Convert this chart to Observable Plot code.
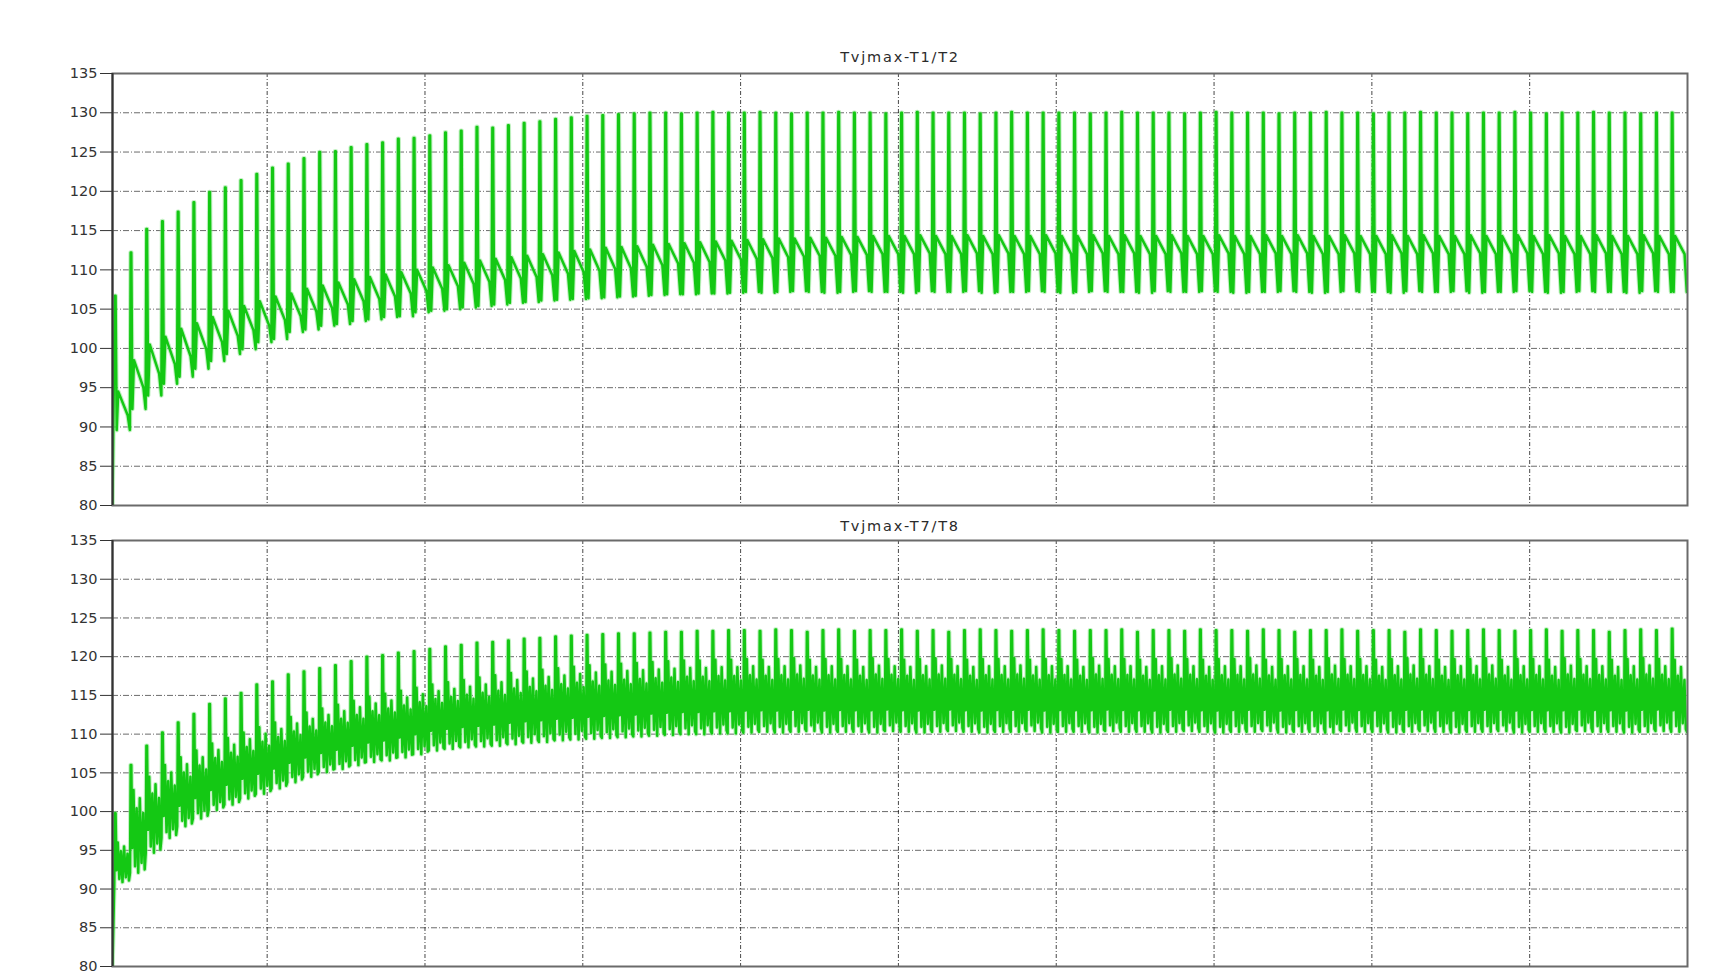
<!DOCTYPE html>
<html>
<head>
<meta charset="utf-8">
<script src="https://cdn.jsdelivr.net/npm/d3@7"></script>
<script src="https://cdn.jsdelivr.net/npm/@observablehq/plot@0.6"></script>
<style>
  html, body { margin: 0; padding: 0; background: #fff; overflow: hidden; }
  #chart { position: relative; width: 1731px; height: 974px; overflow: hidden; background: #fff; }
  #chart > div { position: absolute; left: 0; }
</style>
</head>
<body>
<div id="chart"><div id="p1"></div><div id="p2"></div></div>
<script>
// ---- axes ----
const yTicks = [80, 85, 90, 95, 100, 105, 110, 115, 120, 125, 130, 135];
const gridTimes = [0.2, 0.4, 0.6, 0.8, 1.0, 1.2, 1.4, 1.6, 1.8];
const panelTitles = ["Tvjmax-T1/T2", "Tvjmax-T7/T8"];
const startValue = 80;          // both junction temperatures start at 80 °C
const tStart = 0.004;           // first recorded sample
const tEnd = 2.0;
const period = 0.01993;         // one load cycle
const firstSpike = 0.0075;      // time of the first loss pulse

// ---- Tvjmax T1/T2: per-cycle levels (°C) ----
const t12Trough = [
  100.0, 89.6, 92.3, 94.0, 95.5, 96.4, 97.4, 98.4, 99.3, 99.9,
  100.8, 101.2, 102.1, 102.4, 102.9, 103.1, 103.5, 103.7, 104.0, 104.1,
  104.6, 104.8, 105.0, 105.2, 105.4, 105.6, 105.8, 105.9, 106.1, 106.2,
  106.3, 106.4, 106.5, 106.6, 106.7, 106.8, 106.9, 106.9, 107.0, 107.0,
  107.1, 107.2, 107.1, 107.2, 107.3, 107.2, 107.1, 107.2, 107.3, 107.2,
  107.2, 107.1, 107.3, 107.2, 107.2, 107.3, 107.1, 107.2, 107.2, 107.3,
  107.2, 107.1, 107.2, 107.3, 107.2, 107.2, 107.1, 107.3, 107.2, 107.2,
  107.3, 107.2, 107.1, 107.2, 107.2, 107.3, 107.2, 107.1, 107.2, 107.3,
  107.2, 107.2, 107.1, 107.3, 107.2, 107.2, 107.3, 107.1, 107.2, 107.2,
  107.3, 107.2, 107.1, 107.2, 107.3, 107.2, 107.2, 107.1, 107.3, 107.2
];
const t12Peak = [
  106.7, 112.2, 115.2, 116.2, 117.4, 118.6, 119.9, 120.5, 121.4, 122.2,
  123.0, 123.5, 124.2, 125.0, 125.1, 125.6, 126.0, 126.2, 126.7, 126.8,
  127.1, 127.5, 127.7, 128.2, 128.1, 128.4, 128.7, 128.9, 129.2, 129.4,
  129.6, 129.7, 129.8, 129.9, 130.0, 130.0, 129.9, 130.0, 130.1, 130.0,
  130.0, 130.1, 130.0, 129.9, 130.0, 130.0, 130.1, 130.0, 130.0, 129.9,
  130.0, 130.1, 130.0, 130.0, 130.0, 129.9, 130.0, 130.1, 130.0, 130.0,
  130.0, 130.0, 129.9, 130.0, 130.1, 130.0, 130.0, 130.0, 129.9, 130.0,
  130.1, 130.0, 130.0, 130.0, 129.9, 130.0, 130.0, 130.1, 130.0, 130.0,
  129.9, 130.0, 130.0, 130.1, 130.0, 130.0, 129.9, 130.0, 130.0, 130.1,
  130.0, 129.9, 130.0, 130.0, 130.1, 130.0, 130.0, 129.9, 130.0, 130.0
];
const t12Bump = [
  94.5, 98.5, 100.5, 101.5, 102.5, 103.2, 104.0, 104.8, 105.4, 106.0,
  106.6, 107.0, 107.6, 108.0, 108.4, 108.8, 109.1, 109.4, 109.7, 110.0,
  110.3, 110.6, 110.9, 111.2, 111.4, 111.6, 111.8, 112.0, 112.2, 112.4,
  112.6, 112.8, 112.9, 113.0, 113.2, 113.3, 113.4, 113.5, 113.6, 113.7,
  113.8, 113.9, 114.0, 114.0, 114.1, 114.1, 114.2, 114.2, 114.3, 114.3,
  114.3, 114.4, 114.3, 114.3, 114.4, 114.3, 114.4, 114.3, 114.3, 114.4,
  114.3, 114.3, 114.4, 114.3, 114.4, 114.3, 114.3, 114.4, 114.3, 114.3,
  114.4, 114.3, 114.3, 114.4, 114.3, 114.4, 114.3, 114.3, 114.4, 114.3,
  114.3, 114.4, 114.3, 114.4, 114.3, 114.3, 114.4, 114.3, 114.3, 114.4,
  114.3, 114.4, 114.3, 114.3, 114.4, 114.3, 114.3, 114.4, 114.3, 114.3
];
const t12Fade = [
  91.5, 95.0, 96.8, 98.0, 99.0, 99.9, 100.8, 101.6, 102.3, 102.9,
  103.6, 104.1, 104.7, 105.1, 105.6, 106.0, 106.3, 106.6, 107.0, 107.3,
  107.6, 107.9, 108.2, 108.5, 108.7, 108.9, 109.1, 109.3, 109.5, 109.7,
  109.9, 110.1, 110.2, 110.4, 110.6, 110.8, 110.9, 111.0, 111.2, 111.3,
  111.4, 111.5, 111.6, 111.7, 111.8, 111.8, 111.9, 111.9, 112.0, 112.0,
  112.0, 112.1, 112.0, 112.0, 112.1, 112.0, 112.1, 112.0, 112.0, 112.1,
  112.0, 112.0, 112.1, 112.0, 112.1, 112.0, 112.0, 112.1, 112.0, 112.0,
  112.1, 112.0, 112.0, 112.1, 112.0, 112.1, 112.0, 112.0, 112.1, 112.0,
  112.0, 112.1, 112.0, 112.1, 112.0, 112.0, 112.1, 112.0, 112.0, 112.1,
  112.0, 112.1, 112.0, 112.0, 112.1, 112.0, 112.0, 112.1, 112.0, 112.0
];

// ---- Tvjmax T7/T8: per-cycle levels (°C) ----
const t78Low = [
  90.9, 92.1, 94.7, 96.6, 98.1, 99.1, 100.2, 100.9, 101.7, 102.3,
  103.0, 103.8, 104.5, 105.1, 105.5, 106.0, 106.4, 106.6, 107.0, 107.4,
  107.9, 108.1, 108.3, 108.4, 108.5, 108.7, 108.9, 109.0, 109.2, 109.3,
  109.4, 109.5, 109.6, 109.7, 109.8, 109.9, 110.0, 110.0, 110.1, 110.1,
  110.2, 110.3, 110.2, 110.3, 110.4, 110.2, 110.3, 110.3, 110.2, 110.4,
  110.3, 110.2, 110.3, 110.4, 110.3, 110.2, 110.3, 110.3, 110.4, 110.2,
  110.3, 110.3, 110.2, 110.4, 110.3, 110.3, 110.2, 110.3, 110.4, 110.3,
  110.2, 110.3, 110.3, 110.4, 110.2, 110.3, 110.3, 110.2, 110.4, 110.3,
  110.3, 110.2, 110.3, 110.4, 110.3, 110.2, 110.3, 110.3, 110.4, 110.2,
  110.3, 110.3, 110.2, 110.4, 110.3, 110.3, 110.2, 110.3, 110.4, 110.3
];
const t78Top = [
  96.0, 102.8, 104.5, 106.0, 107.0, 107.9, 108.8, 109.5, 110.2, 110.9,
  111.5, 112.2, 112.8, 113.3, 113.8, 114.3, 114.8, 115.2, 115.6, 116.0,
  116.4, 116.7, 117.0, 117.3, 117.6, 117.9, 118.1, 118.3, 118.5, 118.7,
  118.9, 119.0, 119.1, 119.2, 119.3, 119.4, 119.5, 119.5, 119.6, 119.6,
  119.7, 119.6, 119.7, 119.8, 119.6, 119.7, 119.7, 119.6, 119.8, 119.7,
  119.6, 119.7, 119.8, 119.7, 119.6, 119.7, 119.7, 119.8, 119.6, 119.7,
  119.7, 119.6, 119.8, 119.7, 119.7, 119.6, 119.7, 119.8, 119.7, 119.6,
  119.7, 119.7, 119.8, 119.6, 119.7, 119.7, 119.6, 119.8, 119.7, 119.7,
  119.6, 119.7, 119.8, 119.7, 119.6, 119.7, 119.7, 119.8, 119.6, 119.7,
  119.7, 119.6, 119.8, 119.7, 119.7, 119.6, 119.7, 119.8, 119.7, 119.6
];
const t78Peak = [
  99.8, 106.0, 108.5, 110.2, 111.5, 112.6, 113.9, 114.6, 115.3, 116.4,
  116.8, 117.7, 118.1, 118.5, 118.9, 119.4, 120.0, 120.2, 120.5, 120.7,
  121.0, 121.3, 121.5, 121.8, 121.9, 122.1, 122.3, 122.4, 122.6, 122.7,
  122.8, 122.9, 123.0, 123.0, 123.1, 123.2, 123.2, 123.3, 123.3, 123.4,
  123.4, 123.3, 123.5, 123.4, 123.2, 123.4, 123.5, 123.3, 123.4, 123.4,
  123.5, 123.3, 123.4, 123.2, 123.4, 123.5, 123.4, 123.3, 123.4, 123.5,
  123.4, 123.3, 123.4, 123.4, 123.5, 123.2, 123.4, 123.4, 123.3, 123.5,
  123.4, 123.4, 123.3, 123.5, 123.4, 123.2, 123.4, 123.4, 123.5, 123.3,
  123.4, 123.4, 123.2, 123.5, 123.4, 123.3, 123.4, 123.5, 123.4, 123.3,
  123.4, 123.5, 123.3, 123.4, 123.4, 123.2, 123.4, 123.5, 123.4, 123.6
];

// Within one cycle: [phase, level]. Named levels come from the arrays above;
// a number is a fraction of the way from the cycle's low to its band top.
const t12Shape = [[0, "trough"], [0.05, "peak"], [0.09, "peak"], [0.16, "dip"], [0.26, "bump"], [0.86, "fade"]];
const t78Shape = [[0, "low"], [0.04, "peak"], [0.08, "peak"], [0.14, 0.3], [0.22, 1], [0.32, 0.08], [0.42, 0.78],
                  [0.52, 0], [0.62, 0.9], [0.73, 0.12], [0.84, 0.72], [0.93, 0.04]];

function buildT12() {
  const pts = [{t: tStart, v: startValue}];
  const n = t12Peak.length;
  for (let k = 0; k < n; k++) {
    const s = firstSpike + (k - 0.07) * period;
    const lv = {
      trough: t12Trough[k], peak: t12Peak[k], bump: t12Bump[k], fade: t12Fade[k],
      dip: k + 1 < n ? t12Trough[k + 1] : t12Trough[k]
    };
    for (const [ph, key] of t12Shape) pts.push({t: s + ph * period, v: lv[key]});
  }
  pts.push({t: firstSpike + (n - 0.07) * period, v: t12Trough[n - 1]});
  return pts;
}

function buildT78() {
  const pts = [{t: tStart, v: startValue}];
  const n = t78Peak.length;
  for (let k = 0; k < n; k++) {
    const s = firstSpike + (k - 0.06) * period;
    const lo = t78Low[k], hi = t78Top[k];
    for (const [ph, key] of t78Shape) {
      const v = key === "low" ? lo : key === "peak" ? t78Peak[k] : lo + key * (hi - lo);
      pts.push({t: s + ph * period, v});
    }
  }
  pts.push({t: firstSpike + (n - 0.06) * period, v: t78Low[n - 1]});
  return pts;
}

function panel(series, title, {height, marginTop, marginBottom, titleDy}) {
  const svg = Plot.plot({
    width: 1731,
    height,
    marginLeft: 112,
    marginRight: 44,
    marginTop,
    marginBottom,
    style: {background: "transparent", fontFamily: "DejaVu Sans, sans-serif"},
    x: {domain: [tStart, tEnd], axis: null},
    y: {domain: [80, 135], axis: null},
    marks: [
      Plot.gridY(yTicks.filter(d => d > 80 && d < 135), {stroke: "#3a3a3a", strokeOpacity: 0.75, strokeWidth: 1, strokeDasharray: "6,2,1,2"}),
      Plot.gridX(gridTimes, {stroke: "#1a1a1a", strokeOpacity: 0.8, strokeWidth: 1, strokeDasharray: "4,2,1,2"}),
      // soft light-green edge under the trace
      Plot.line(series, {x: "t", y: "v", stroke: "#8fe58f", strokeOpacity: 0.55, strokeWidth: 4.6, clip: true}),
      Plot.line(series, {x: "t", y: "v", stroke: "#14c814", strokeWidth: 2.5, clip: true}),
      Plot.frame({stroke: "#6a6a6a", strokeWidth: 2}),
      Plot.ruleX([tStart], {stroke: "#333", strokeWidth: 2}),
      Plot.axisY({ticks: yTicks, label: null, tickSize: 12, tickPadding: 3, fontSize: 14.5, stroke: "#333", fill: "#333"}),
      Plot.text([title], {frameAnchor: "top", lineAnchor: "middle", dy: titleDy, fontSize: 14.5, fill: "#2a2a2a"})
    ]
  });
  d3.select(svg).selectAll("text").filter(function () { return this.textContent === title; })
    .attr("letter-spacing", "1.8px");
  return svg;
}

const p1 = document.getElementById("p1");
p1.style.top = "0px";
p1.appendChild(panel(buildT12(), panelTitles[0], {height: 512, marginTop: 73, marginBottom: 7, titleDy: -16}));

const p2 = document.getElementById("p2");
p2.style.top = "512px";
p2.appendChild(panel(buildT78(), panelTitles[1], {height: 500, marginTop: 28, marginBottom: 46, titleDy: -14.5}));
</script>
</body>
</html>
